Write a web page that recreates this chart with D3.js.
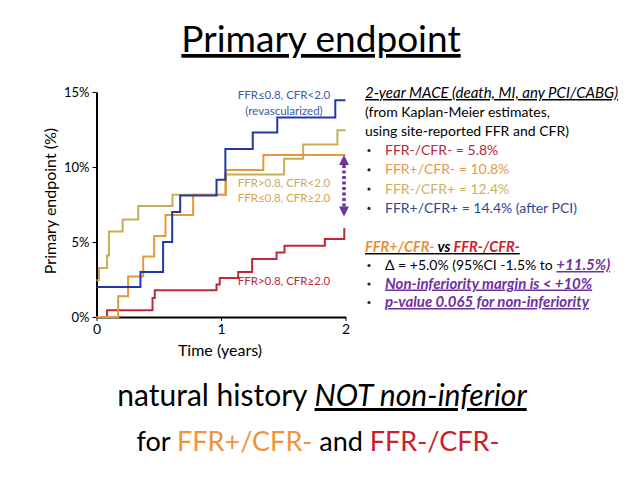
<!DOCTYPE html>
<html>
<head>
<meta charset="utf-8">
<script src="https://d3js.org/d3.v7.min.js"></script>
<style>
  body { margin: 0; background: #fff; }
  svg { font-family: Lato, "Open Sans", sans-serif; }
</style>
</head>
<body>
<script>
// step data (time in years, event %)
var blueT   = [0, 0.353, 0.535, 0.608, 0.672, 0.964, 1.035, 1.255, 1.452, 1.918, 2.0];
var blueV   = [2.0, 3.0, 5.0, 7.0, 8.1, 9.15, 11.2, 12.3, 13.3, 14.45, 14.45];
var khakiT  = [0, 0.02, 0.085, 0.1, 0.21, 0.335, 0.61, 1.035, 1.507, 1.66, 1.935, 2.0];
var khakiV  = [2.45, 3.27, 4.1, 5.7, 6.5, 7.4, 8.15, 9.5, 10.55, 11.5, 12.45, 12.45];
var orangeT = [0, 0.174, 0.254, 0.375, 0.463, 0.554, 0.776, 1.04, 1.34, 2.0];
var orangeV = [0, 1.38, 2.7, 4.04, 5.4, 6.8, 8.15, 9.8, 10.8, 10.8];
var redT    = [0, 0.085, 0.45, 0.468, 0.964, 0.99, 1.138, 1.25, 1.446, 1.51, 1.834, 1.99, 2.0];
var redV    = [0, 0.45, 1.27, 1.78, 2.16, 2.6, 3.0, 3.87, 4.3, 4.75, 5.2, 5.85, 5.85];

var yTicks = [0, 5, 10, 15];
var xTicks = [0, 1, 2];

var arrowFrom = 10.8, arrowTo = 6.7;

var summary = [
  {text: "FFR-/CFR- = 5.8%", color: "#b8283c"},
  {text: "FFR+/CFR- = 10.8%", color: "#e39a4e"},
  {text: "FFR-/CFR+ = 12.4%", color: "#c9b264"},
  {text: "FFR+/CFR+ = 14.4% (after PCI)", color: "#2e4a8e"}
];

var svg = d3.select("body").append("svg")
  .attr("width", 640).attr("height", 480);

var x = d3.scaleLinear().domain([0, 2]).range([96.5, 345.5]);
var y = d3.scaleLinear().domain([0, 15]).range([317, 92]);

// title
svg.append("text")
  .attr("x", 321).attr("y", 52)
  .attr("text-anchor", "middle")
  .attr("font-size", 37)
  .attr("text-decoration", "underline")
  .text("Primary endpoint");

// axes
var yAxis = d3.axisLeft(y).tickValues(yTicks).tickFormat(function(d) { return d + "%"; })
  .tickSize(4).tickSizeOuter(0).tickPadding(3);
var gy = svg.append("g").attr("transform", "translate(" + x(0) + ",0)").call(yAxis);
gy.selectAll("text").attr("font-size", 13).attr("font-family", "Lato");
gy.select(".domain").attr("stroke-width", 2);

var xAxis = d3.axisBottom(x).tickValues(xTicks).tickFormat(d3.format("d"))
  .tickSize(4).tickSizeOuter(0).tickPadding(3);
var gx = svg.append("g").attr("transform", "translate(0," + y(0) + ")").call(xAxis);
gx.selectAll("text").attr("font-size", 14).attr("font-family", "Lato");
gx.select(".domain").attr("stroke-width", 2);

svg.append("text")
  .attr("transform", "translate(56,201) rotate(-90)")
  .attr("text-anchor", "middle")
  .attr("font-size", 16)
  .text("Primary endpoint (%)");

svg.append("text")
  .attr("x", 220).attr("y", 356)
  .attr("text-anchor", "middle")
  .attr("font-size", 16)
  .text("Time (years)");

// curves
var line = d3.line()
  .x(function(d) { return x(d[0]); })
  .y(function(d) { return y(d[1]); })
  .curve(d3.curveStepAfter);

function curve(ts, vs, color) {
  svg.append("path")
    .datum(d3.zip(ts, vs))
    .attr("d", line)
    .attr("fill", "none")
    .attr("stroke", color)
    .attr("stroke-width", 2);
}
curve(redT, redV, "#c0283a");
curve(khakiT, khakiV, "#c8ad55");
curve(orangeT, orangeV, "#e39a3b");
curve(blueT, blueV, "#2338a8");

// curve labels
function label(t, v, txt, color) {
  svg.append("text")
    .attr("x", x(t)).attr("y", y(v))
    .attr("text-anchor", "middle")
    .attr("font-size", 11.5)
    .attr("fill", color)
    .text(txt);
}
label(1.506, 14.53, "FFR\u22640.8, CFR<2.0", "#3a5aa8");
label(1.506, 13.5, "(revascularized)", "#3a5aa8");
label(1.506, 8.67, "FFR>0.8, CFR<2.0", "#bfae68");
label(1.506, 7.67, "FFR\u22640.8, CFR\u22652.0", "#dca444");
label(1.506, 2.13, "FFR>0.8, CFR\u22652.0", "#b8283c");

// purple dotted double arrow
var ax = x(2) - 1.5, purple = "#7030a0";
svg.append("line")
  .attr("x1", ax).attr("x2", ax)
  .attr("y1", y(arrowFrom) + 10).attr("y2", y(arrowTo) - 10)
  .attr("stroke", purple).attr("stroke-width", 3.5)
  .attr("stroke-dasharray", "3,2.5");
svg.append("path")
  .attr("d", "M" + ax + "," + y(arrowFrom) + "l5,10h-10z")
  .attr("fill", purple);
svg.append("path")
  .attr("d", "M" + ax + "," + y(arrowTo) + "l5,-10h-10z")
  .attr("fill", purple);

// right-hand text block
var tx = 365, fs = 14, fi = 15;
function bullet(yy) {
  svg.append("circle").attr("cx", 369).attr("cy", yy - 4.5).attr("r", 1.6).attr("fill", "#222");
}
svg.append("text").attr("x", tx).attr("y", 98)
  .attr("font-size", fi).attr("font-style", "italic")
  .attr("text-decoration", "underline")
  .text("2-year MACE (death, MI, any PCI/CABG)");
svg.append("text").attr("x", tx).attr("y", 117).attr("font-size", fs)
  .text("(from Kaplan-Meier estimates,");
svg.append("text").attr("x", tx).attr("y", 136).attr("font-size", fs)
  .text("using site-reported FFR and CFR)");

summary.forEach(function(s, i) {
  var yy = 155 + i * 19.3;
  bullet(yy);
  svg.append("text").attr("x", 385).attr("y", yy).attr("font-size", fs)
    .attr("fill", s.color).text(s.text);
});

var cmp = svg.append("text").attr("x", tx).attr("y", 252)
  .attr("font-size", 14.6).attr("font-style", "italic").attr("font-weight", "bold")
  .attr("text-decoration", "underline");
cmp.append("tspan").attr("fill", "#e8903a").text("FFR+/CFR-");
cmp.append("tspan").attr("fill", "#000").text(" vs ");
cmp.append("tspan").attr("fill", "#d0202a").text("FFR-/CFR-");

var stats = [270, 288.5, 307];
stats.forEach(bullet);
var d1 = svg.append("text").attr("x", 385).attr("y", stats[0]).attr("font-size", fs);
d1.append("tspan").text("\u0394 = +5.0% (95%CI -1.5% to ");
d1.append("tspan").attr("fill", purple).attr("font-style", "italic").attr("font-weight", "bold")
  .attr("font-size", fi).attr("text-decoration", "underline").text("+11.5%)");
svg.append("text").attr("x", 385).attr("y", stats[1]).attr("font-size", fi)
  .attr("fill", purple).attr("font-style", "italic").attr("font-weight", "bold")
  .attr("text-decoration", "underline").text("Non-inferiority margin is < +10%");
svg.append("text").attr("x", 385).attr("y", stats[2]).attr("font-size", fi)
  .attr("fill", purple).attr("font-style", "italic").attr("font-weight", "bold")
  .attr("text-decoration", "underline").text("p-value 0.065 for non-inferiority");

// bottom conclusion
var b1 = svg.append("text").attr("x", 322).attr("y", 406)
  .attr("text-anchor", "middle").attr("font-size", 30);
b1.append("tspan").text("natural history ");
b1.append("tspan").attr("font-style", "italic").attr("text-decoration", "underline")
  .text("NOT non-inferior");
var b2 = svg.append("text").attr("x", 318).attr("y", 451)
  .attr("text-anchor", "middle").attr("font-size", 27);
b2.append("tspan").text("for ");
b2.append("tspan").attr("fill", "#f0943c").text("FFR+/CFR-");
b2.append("tspan").text(" and ");
b2.append("tspan").attr("fill", "#c8202c").text("FFR-/CFR-");
</script>
</body>
</html>
